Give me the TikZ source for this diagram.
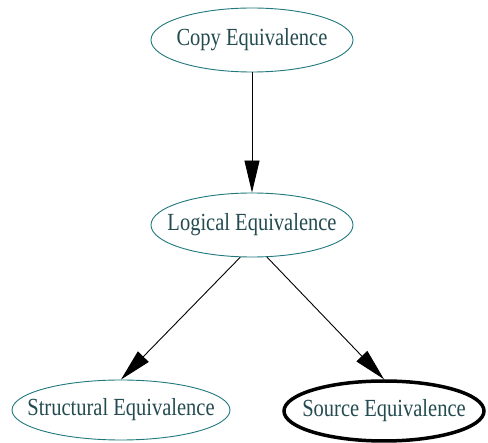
\documentclass[tikz,border=0pt]{standalone}
\usepackage{fontspec}
\setmainfont{Liberation Serif}
\usetikzlibrary{shapes.geometric,arrows.meta}

\definecolor{rimteal}{RGB}{30,120,125}
\definecolor{inkteal}{RGB}{35,75,80}
\newcommand{\eqlabel}[1]{\scalebox{1}[1.2]{#1}}

\begin{document}
\begin{tikzpicture}[x=1pt,y=-1pt,
  equiv/.style={ellipse,draw=rimteal,line width=0.9pt,inner sep=-40pt,
    text=inkteal,font=\fontsize{20.5}{24}\selectfont},
  flow/.style={-{Triangle[length=32pt,width=15pt]},line width=0.9pt}]

\useasboundingbox (0,0) rectangle (488,443);

% equivalence nodes
\node[equiv,minimum width=202pt,minimum height=64pt] (copy) at (252,40) {\eqlabel{Copy Equivalence}};
\node[equiv,minimum width=202pt,minimum height=64pt] (logical) at (252,225) {\eqlabel{Logical Equivalence}};
\node[equiv,minimum width=218pt,minimum height=60pt] (struct) at (121,410) {\eqlabel{Structural Equivalence}};
\node[equiv,draw=black,line width=3.5pt,minimum width=200pt,minimum height=60pt] (source) at (384,411) {\eqlabel{Source Equivalence}};

% edges
\draw[flow] (copy) -- (logical);
\draw[flow] (logical.-110) -- (struct.north);
\draw[flow] (logical.-65) -- (source.north);

\end{tikzpicture}
\end{document}
